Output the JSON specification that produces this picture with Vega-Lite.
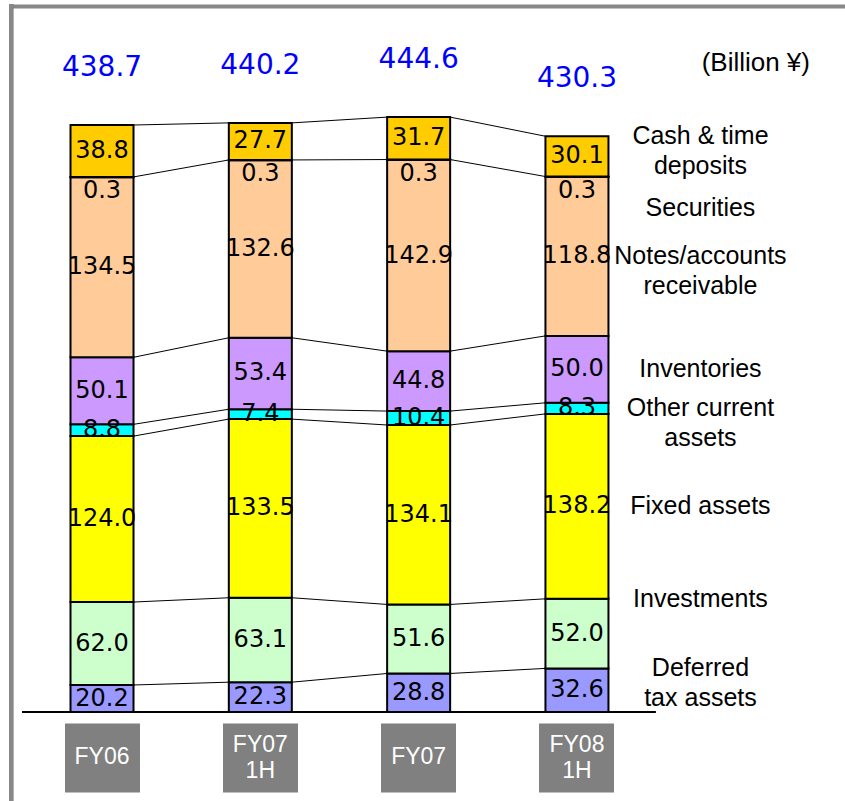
{
  "$schema": "https://vega.github.io/schema/vega-lite/v6.json",
  "width": 834,
  "height": 795,
  "autosize": {"type": "none"},
  "padding": {"left": 11, "top": 6, "right": 0, "bottom": 0},
  "background": "white",
  "config": {"view": {"stroke": null}, "font": "Liberation Sans"},
  "title": {"text": "(Billion ¥)", "anchor": "end", "orient": "top", "frame": "group", "font": "Liberation Sans", "fontSize": 26, "fontWeight": "normal", "color": "black", "baseline": "middle", "offset": 0, "dx": -35, "dy": 86},
  "datasets": {
    "assets": [
      {"period": "FY06", "category": "Deferred", "value": 20.2},
      {"period": "FY06", "category": "Investments", "value": 62.0},
      {"period": "FY06", "category": "Fixed", "value": 124.0},
      {"period": "FY06", "category": "Other", "value": 8.8},
      {"period": "FY06", "category": "Inventories", "value": 50.1},
      {"period": "FY06", "category": "Notes", "value": 134.5},
      {"period": "FY06", "category": "Securities", "value": 0.3},
      {"period": "FY06", "category": "Cash", "value": 38.8},
      {"period": "FY07 1H", "category": "Deferred", "value": 22.3},
      {"period": "FY07 1H", "category": "Investments", "value": 63.1},
      {"period": "FY07 1H", "category": "Fixed", "value": 133.5},
      {"period": "FY07 1H", "category": "Other", "value": 7.4},
      {"period": "FY07 1H", "category": "Inventories", "value": 53.4},
      {"period": "FY07 1H", "category": "Notes", "value": 132.6},
      {"period": "FY07 1H", "category": "Securities", "value": 0.3},
      {"period": "FY07 1H", "category": "Cash", "value": 27.7},
      {"period": "FY07", "category": "Deferred", "value": 28.8},
      {"period": "FY07", "category": "Investments", "value": 51.6},
      {"period": "FY07", "category": "Fixed", "value": 134.1},
      {"period": "FY07", "category": "Other", "value": 10.4},
      {"period": "FY07", "category": "Inventories", "value": 44.8},
      {"period": "FY07", "category": "Notes", "value": 142.9},
      {"period": "FY07", "category": "Securities", "value": 0.3},
      {"period": "FY07", "category": "Cash", "value": 31.7},
      {"period": "FY08 1H", "category": "Deferred", "value": 32.6},
      {"period": "FY08 1H", "category": "Investments", "value": 52.0},
      {"period": "FY08 1H", "category": "Fixed", "value": 138.2},
      {"period": "FY08 1H", "category": "Other", "value": 8.3},
      {"period": "FY08 1H", "category": "Inventories", "value": 50.0},
      {"period": "FY08 1H", "category": "Notes", "value": 118.8},
      {"period": "FY08 1H", "category": "Securities", "value": 0.3},
      {"period": "FY08 1H", "category": "Cash", "value": 30.1}
    ],
    "totals": [
      {"period": "FY06", "total": 438.7},
      {"period": "FY07 1H", "total": 440.2},
      {"period": "FY07", "total": 444.6},
      {"period": "FY08 1H", "total": 430.3}
    ],
    "names": [
      {"category": "Cash", "label": "Cash & time\ndeposits"},
      {"category": "Securities", "label": "Securities"},
      {"category": "Notes", "label": "Notes/accounts\nreceivable"},
      {"category": "Inventories", "label": "Inventories"},
      {"category": "Other", "label": "Other current\nassets"},
      {"category": "Fixed", "label": "Fixed assets"},
      {"category": "Investments", "label": "Investments"},
      {"category": "Deferred", "label": "Deferred\ntax assets"}
    ]
  },
  "data": {"name": "assets"},
  "layer": [
    {
      "transform": [
        {"stack": "value", "groupby": ["period"], "as": ["v0", "v1"]},
        {"filter": "datum.category !== 'Notes'"},
        {"window": [{"op": "lead", "field": "v1", "as": "nv1"}, {"op": "lead", "field": "period", "as": "next"}], "groupby": ["category"]},
        {"filter": "datum.next != null"}
      ],
      "mark": {"type": "rule", "color": "black", "strokeWidth": 1},
      "encoding": {
        "x": {"field": "period", "type": "nominal", "bandPosition": 1,
              "scale": {"type": "band", "domain": ["FY06", "FY07 1H", "FY07", "FY08 1H"], "paddingInner": 0.602, "paddingOuter": 0.935, "align": 0.201},
              "axis": {"orient": "top", "domain": true, "domainColor": "#888888", "domainWidth": 4, "domainCap": "square", "ticks": false, "labels": false, "grid": false, "title": null}},
        "x2": {"field": "next", "bandPosition": 0},
        "y": {"field": "v1", "type": "quantitative", "scale": {"domain": [-66.5, 527.65], "nice": false, "zero": false}, "axis": null},
        "y2": {"field": "nv1"}
      }
    },
    {
      "mark": {"type": "rule", "color": "#888888", "strokeWidth": 4, "strokeCap": "square"},
      "encoding": {
        "x": {"datum": "FY06", "bandPosition": -0.944, "axis": null}
      }
    },
    {
      "transform": [{"stack": "value", "groupby": ["period"], "as": ["v0", "v1"]}],
      "mark": {"type": "bar", "stroke": "black", "strokeWidth": 2},
      "encoding": {
        "x": {"field": "period", "type": "nominal",
              "scale": {"type": "band", "domain": ["FY06", "FY07 1H", "FY07", "FY08 1H"], "paddingInner": 0.602, "paddingOuter": 0.935, "align": 0.201},
              "axis": {"orient": "bottom", "offset": -78, "domain": false, "grid": false, "ticks": true, "tickSize": 69, "tickWidth": 75, "tickColor": "#808080", "tickCap": "butt", "labelColor": "white", "labelFont": "Liberation Sans", "labelFontSize": 23, "labelPadding": -36, "labelBaseline": {"condition": {"test": "indexof(datum.value, ' ') >= 0", "value": "bottom"}, "value": "middle"}, "labelAngle": 0, "labelExpr": "split(datum.label, ' ')", "labelLineHeight": 26, "labelBound": false, "labelOverlap": false, "labelFlush": false, "title": null}},
        "y": {"field": "v1", "type": "quantitative", "scale": {"domain": [-66.5, 527.65], "nice": false, "zero": false}, "axis": null},
        "y2": {"field": "v0"},
        "fill": {"field": "category", "type": "nominal", "legend": null,
                 "scale": {"domain": ["Cash", "Securities", "Notes", "Inventories", "Other", "Fixed", "Investments", "Deferred"],
                           "range": ["#FFCC00", "#FFCC99", "#FFCC99", "#CC99FF", "#00FFFF", "#FFFF00", "#CCFFCC", "#9999FF"]}}
      }
    },
    {
      "mark": {"type": "rule", "color": "black", "strokeWidth": 1.5},
      "encoding": {
        "x": {"datum": "FY06", "bandPosition": -0.77, "axis": null},
        "x2": {"datum": "FY08 1H", "bandPosition": 1.74},
        "y": {"datum": 0, "axis": null}
      }
    },
    {
      "transform": [
        {"stack": "value", "groupby": ["period"], "as": ["v0", "v1"]},
        {"filter": "datum.category !== 'Securities'"},
        {"fold": ["v0", "v1"], "as": ["edge", "pos"]},
        {"aggregate": [{"op": "mean", "field": "pos", "as": "mid"}], "groupby": ["period", "category", "value"]}
      ],
      "mark": {"type": "text", "font": "DejaVu Sans", "fontSize": 24, "color": "black", "baseline": "middle", "align": "center"},
      "encoding": {
        "x": {"field": "period", "type": "nominal", "axis": null},
        "y": {"field": "mid", "type": "quantitative", "axis": null},
        "text": {"field": "value", "type": "quantitative", "format": ".1f"}
      }
    },
    {
      "transform": [
        {"stack": "value", "groupby": ["period"], "as": ["v0", "v1"]},
        {"filter": "datum.category === 'Securities'"}
      ],
      "mark": {"type": "text", "font": "DejaVu Sans", "fontSize": 24, "color": "black", "baseline": "top", "align": "center", "dy": 2},
      "encoding": {
        "x": {"field": "period", "type": "nominal", "axis": null},
        "y": {"field": "v1", "type": "quantitative", "axis": null},
        "text": {"field": "value", "type": "quantitative", "format": ".1f"}
      }
    },
    {
      "data": {"name": "totals"},
      "mark": {"type": "text", "font": "DejaVu Sans", "fontSize": 28, "color": "#0000FF", "baseline": "middle", "align": "center", "dy": -57},
      "encoding": {
        "x": {"field": "period", "type": "nominal", "axis": null},
        "y": {"field": "total", "type": "quantitative", "axis": null},
        "text": {"field": "total", "type": "quantitative", "format": ".1f"}
      }
    },
    {
      "transform": [
        {"stack": "value", "groupby": ["period"], "as": ["v0", "v1"]},
        {"filter": "datum.period === 'FY08 1H' && indexof(['Notes', 'Inventories', 'Other', 'Fixed'], datum.category) >= 0"},
        {"fold": ["v0", "v1"], "as": ["edge", "pos"]},
        {"aggregate": [{"op": "mean", "field": "pos", "as": "mid"}], "groupby": ["period", "category"]},
        {"lookup": "category", "from": {"data": {"name": "names"}, "key": "category", "fields": ["label"]}}
      ],
      "mark": {"type": "text", "font": "Liberation Sans", "fontSize": 25, "color": "black", "baseline": "middle", "align": "center", "lineBreak": "\n", "lineHeight": 30, "dx": 92},
      "encoding": {
        "x": {"field": "period", "type": "nominal", "bandPosition": 1, "axis": null},
        "y": {"field": "mid", "type": "quantitative", "axis": null},
        "text": {"field": "label"}
      }
    },
    {
      "transform": [
        {"stack": "value", "groupby": ["period"], "as": ["v0", "v1"]},
        {"filter": "datum.period === 'FY08 1H' && indexof(['Cash', 'Investments', 'Deferred'], datum.category) >= 0"},
        {"lookup": "category", "from": {"data": {"name": "names"}, "key": "category", "fields": ["label"]}}
      ],
      "mark": {"type": "text", "font": "Liberation Sans", "fontSize": 25, "color": "black", "baseline": "middle", "align": "center", "lineBreak": "\n", "lineHeight": 30, "dx": 92},
      "encoding": {
        "x": {"field": "period", "type": "nominal", "bandPosition": 1, "axis": null},
        "y": {"field": "v1", "type": "quantitative", "axis": null},
        "text": {"field": "label"}
      }
    },
    {
      "transform": [
        {"stack": "value", "groupby": ["period"], "as": ["v0", "v1"]},
        {"filter": "datum.period === 'FY08 1H' && datum.category === 'Securities'"},
        {"lookup": "category", "from": {"data": {"name": "names"}, "key": "category", "fields": ["label"]}}
      ],
      "mark": {"type": "text", "font": "Liberation Sans", "fontSize": 25, "color": "black", "baseline": "top", "align": "center", "dx": 92, "dy": 19},
      "encoding": {
        "x": {"field": "period", "type": "nominal", "bandPosition": 1, "axis": null},
        "y": {"field": "v1", "type": "quantitative", "axis": null},
        "text": {"field": "label"}
      }
    }
  ]
}
